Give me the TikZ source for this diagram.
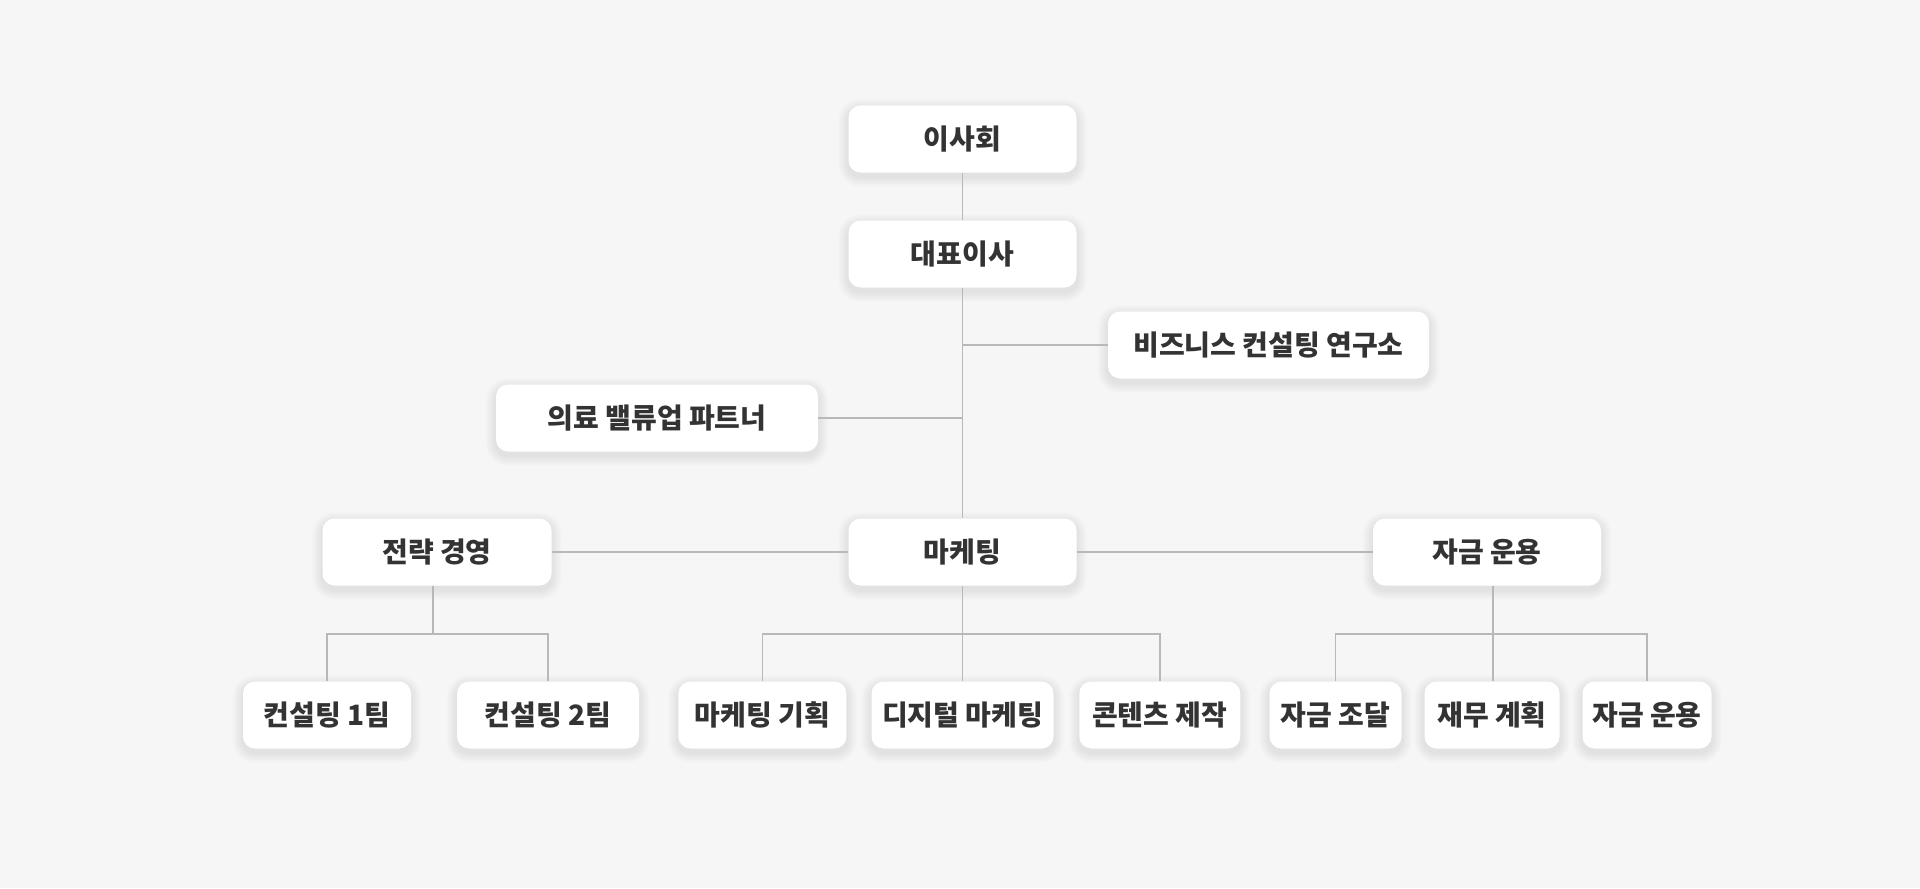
\documentclass[tikz,border=0pt]{standalone}
\usepackage{fontspec}
\setmainfont{Noto Sans CJK KR}
\definecolor{bg}{HTML}{F6F6F6}
\definecolor{ln}{HTML}{B8B8B8}
\definecolor{tx}{HTML}{333333}
\pgfdeclarelayer{bglayer}
\pgfdeclarelayer{shadowlayer}
\pgfsetlayers{bglayer,shadowlayer,main}
\begin{document}
\begin{tikzpicture}[x=0.5pt,y=-0.5pt,
 box/.style={draw=none, fill=white, rounded corners=6pt, minimum height=33.5pt, inner sep=0pt, text=tx,
   font=\fontsize{14}{16}\selectfont\bfseries},
 shadowpart/.style={fill=black, fill opacity=0.008, draw=none},
 conn/.style={draw=ln, line width=0.8pt}]
\begin{pgfonlayer}{bglayer}
\fill[bg] (0,0) rectangle (1920,888);
\end{pgfonlayer}
\useasboundingbox (0,0) rectangle (1920,888);
\coordinate (bj) at (0,634);
\node[box, minimum width=114pt] (board) at (962.5,139) {이사회};
\node[box, minimum width=114pt] (ceo) at (962.5,254) {대표이사};
\node[box, minimum width=160.5pt] (lab) at (1268.5,345) {비즈니스 컨설팅 연구소};
\node[box, minimum width=161pt] (med) at (657,418) {의료 밸류업 파트너};
\node[box, minimum width=114.5pt] (strat) at (437,552) {전략 경영};
\node[box, minimum width=114pt] (mkt) at (962.5,552) {마케팅};
\node[box, minimum width=114pt] (fund) at (1487,552) {자금 운용};
\node[box, minimum width=84pt] (c1) at (327,715) {컨설팅 1팀};
\node[box, minimum width=91pt] (c2) at (548,715) {컨설팅 2팀};
\node[box, minimum width=84pt] (m1) at (762.4,715) {마케팅 기획};
\node[box, minimum width=91pt] (m2) at (962.5,715) {디지털 마케팅};
\node[box, minimum width=80.5pt] (m3) at (1159.8,715) {콘텐츠 제작};
\node[box, minimum width=66pt] (f1) at (1335.5,715) {자금 조달};
\node[box, minimum width=67.5pt] (f2) at (1492,715) {재무 계획};
\node[box, minimum width=64.5pt] (f3) at (1647,715) {자금 운용};
% soft shadows
\begin{pgfonlayer}{shadowlayer}
\foreach \n in {board,ceo,lab,med,strat,mkt,fund,c1,c2,m1,m2,m3,f1,f2,f3}{
  \foreach \k in {0.5,1,...,5}{
    \fill[shadowpart, rounded corners=6pt+\k pt]
      ([shift={(-\k pt,\k pt-2pt)}]\n.north west) rectangle ([shift={(\k pt,-\k pt-2pt)}]\n.south east);
  }
}
\end{pgfonlayer}
\coordinate (sstem) at ([xshift=-2pt]strat.south);
\coordinate (fstem) at ([xshift=3pt]fund.south);
% trunk
\draw[conn] (board.south) -- (ceo.north);
\draw[conn] (ceo.south) -- (mkt.north);
\draw[conn] (lab.west) -- (lab.west -| ceo.south);
\draw[conn] (med.east) -- (med.east -| ceo.south);
\draw[conn] (strat.east) -- (mkt.west);
\draw[conn] (mkt.east) -- (fund.west);
% strat children
\draw[conn] (sstem) -- (sstem |- bj);
\draw[conn] (c1.north) |- (c2.north |- bj) -- (c2.north);
% marketing children
\draw[conn] (mkt.south) -- (mkt.south |- bj);
\draw[conn] (m1.north) |- (m3.north |- bj) -- (m3.north);
\draw[conn] (m2.north) -- (m2.north |- bj);
% fund children
\draw[conn] (fstem) -- (fstem |- f2.north);
\draw[conn] (f1.north) |- (f3.north |- bj) -- (f3.north);
\end{tikzpicture}
\end{document}
